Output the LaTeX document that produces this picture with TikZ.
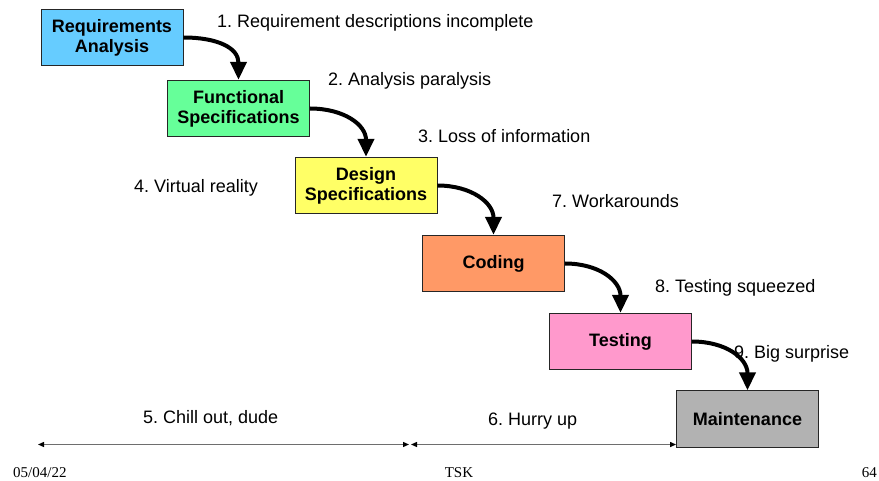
\documentclass[tikz,border=0pt]{standalone}
\usepackage{fontspec}
\setmainfont{Liberation Sans}
\newfontfamily\footfont{Liberation Serif}
\usetikzlibrary{arrows.meta}
\frenchspacing

\definecolor{reqblue}{HTML}{66CCFF}
\definecolor{funcgreen}{HTML}{66FF99}
\definecolor{desyellow}{HTML}{FFFF66}
\definecolor{codeorange}{HTML}{FF9966}
\definecolor{testpink}{HTML}{FF99CC}
\definecolor{maintgray}{HTML}{B2B2B2}
\definecolor{spanline}{HTML}{6E6E6E}

\begin{document}
\begin{tikzpicture}[x=1pt,y=-1pt,
  phase/.style={draw=black!85, line width=0.9pt, minimum width=142pt,
    minimum height=56.5pt, inner sep=0pt, align=center,
    font=\fontsize{18}{20}\selectfont\bfseries},
  flow/.style={line width=4pt, -{Triangle[length=18pt,width=16pt]}},
  issue/.style={anchor=base west, inner sep=0pt,
    font=\fontsize{18}{21}\selectfont},
  span/.style={draw=spanline, line width=1.3pt,
    {Triangle[length=6pt,width=5pt,color=black]}-{Triangle[length=6pt,width=5pt,color=black]}},
  foot/.style={inner sep=0pt, font=\footfont\fontsize{15}{18}\selectfont}]

% canvas
\fill[white] (0,0) rectangle (879,481);
\useasboundingbox (0,0) rectangle (879,481);

% waterfall phases
\node[phase, fill=reqblue]    (req)   at (112,37.5)  {Requirements\\Analysis};
\node[phase, fill=funcgreen]  (func)  at (238.5,108.5) {Functional\\Specifications};
\node[phase, fill=desyellow]  (des)   at (366,185.5) {Design\\Specifications};
\node[phase, fill=codeorange] (code)  at (493.5,263.5) {Coding};
\node[phase, fill=testpink]   (test)  at (620.5,341.5) {Testing};
\node[phase, fill=maintgray]  (maint) at (747.5,419) {Maintenance};

% hand-offs between phases
\draw[flow] (req.east)  .. controls +(34,0) and +(0,-32) .. (func.north);
\draw[flow] (func.east) .. controls +(34,0) and +(0,-32) .. (des.north);
\draw[flow] (des.east)  .. controls +(34,0) and +(0,-32) .. (code.north);
\draw[flow] (code.east) .. controls +(34,0) and +(0,-32) .. (test.north);
\draw[flow] (test.east) .. controls +(34,0) and +(0,-32) .. (maint.north);

% problems along the way
\node[issue] (p1) at (217,28)  {1. Requirement descriptions incomplete};
\node[issue] (p2) at (328,86)  {2. Analysis paralysis};
\node[issue] (p3) at (418,143) {3. Loss of information};
\node[issue] (p4) at (134,193) {4. Virtual reality};
\node[issue] (p7) at (552,208) {7. Workarounds};
\node[issue] (p8) at (655,293) {8. Testing squeezed};
\node[issue] (p9) at (734,359) {9. Big surprise};
\node[issue] (p5) at (143,423) {5. Chill out, dude};
\node[issue] (p6) at (488,425) {6. Hurry up};

% schedule spans
\coordinate (spanA) at (38,444.5);
\coordinate (spanB) at (409,444.5);
\coordinate (spanC) at (411,444.5);
\coordinate (spanD) at (maint.west |- spanA);
\draw[span] (spanA) -- (spanB);
\draw[span] (spanC) -- (spanD);

% footer
\node[foot, anchor=base west] (date) at (13,477) {05/04/22};
\node[foot, anchor=base] (author) at (459,477) {TSK};
\node[foot, anchor=base east] (page) at (877,477) {64};
\end{tikzpicture}
\end{document}
